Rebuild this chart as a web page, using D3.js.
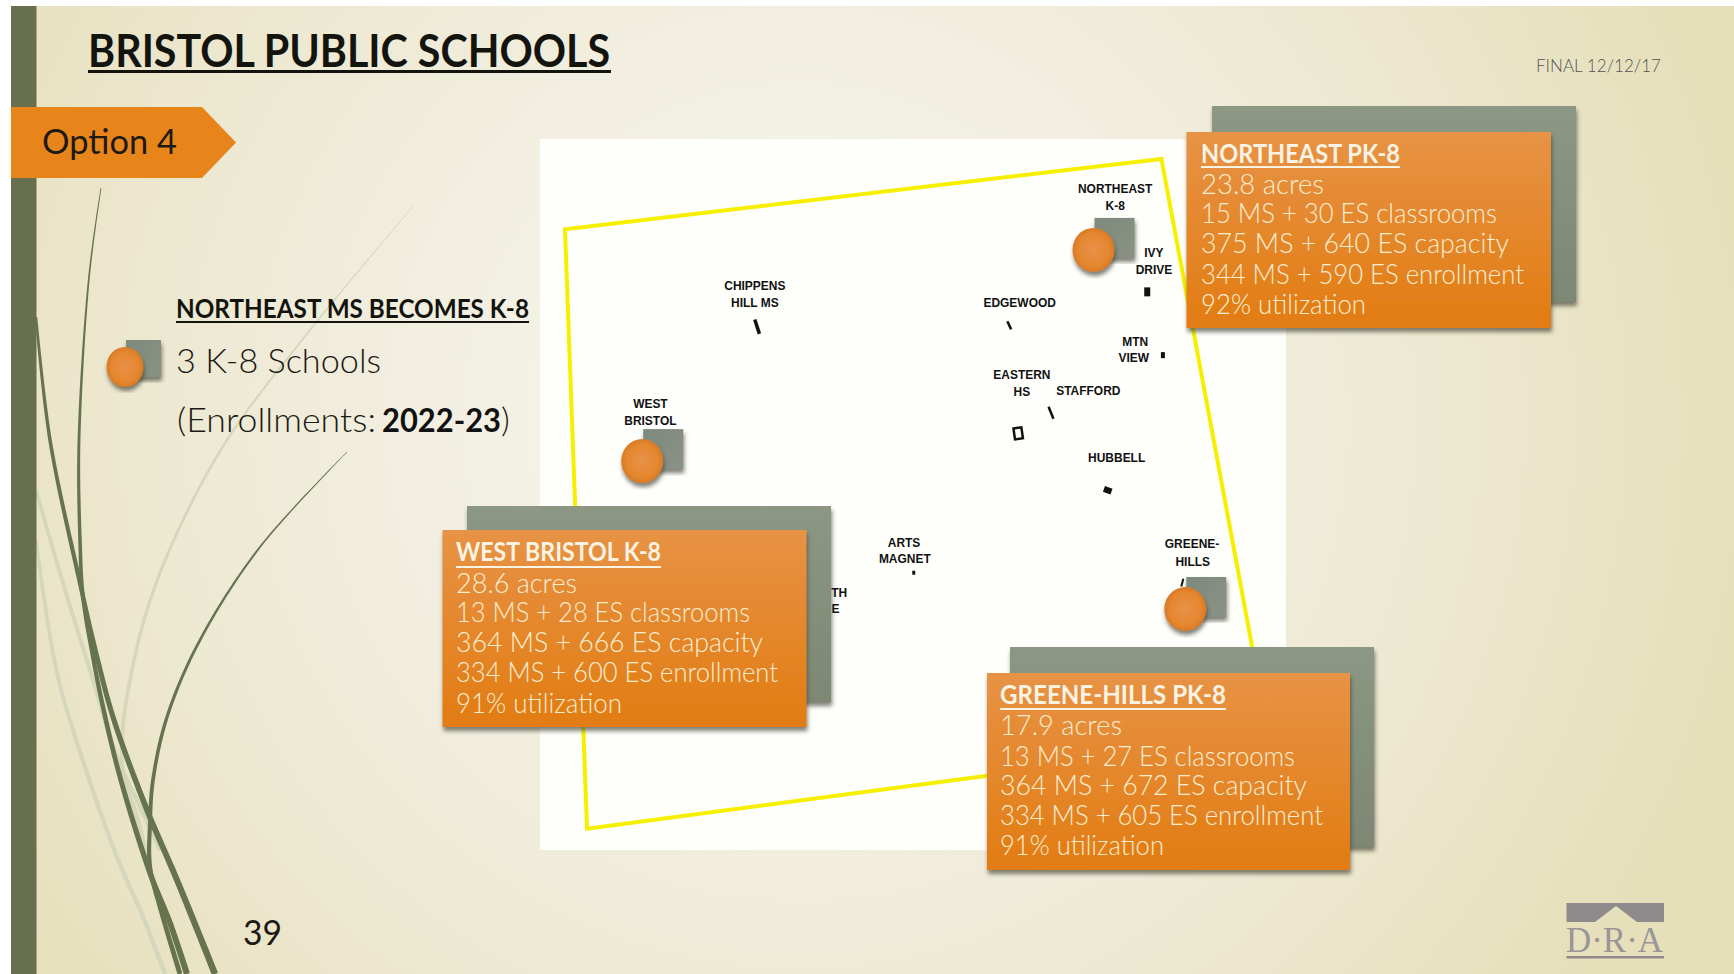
<!DOCTYPE html>
<html><head><meta charset="utf-8">
<script src="https://cdn.jsdelivr.net/npm/d3@7/dist/d3.min.js"></script>
<style>html,body{margin:0;padding:0;background:#fff;overflow:hidden}svg{display:block}</style>
</head><body><svg id="c" width="1734" height="974"></svg>
<script>
// ---------- data ----------
const pageTitle = "BRISTOL PUBLIC SCHOOLS";
const stamp = "FINAL 12/12/17";
const optionLabel = "Option 4";
const leftHeading = "NORTHEAST MS BECOMES K-8";
const leftCount = "3 K-8 Schools";
const enrollLabel = "(Enrollments:";
const enrollYear = "2022-23";
const pageNumber = "39";

const k8Names = ["NORTHEAST PK-8", "WEST BRISTOL K-8", "GREENE-HILLS PK-8"];
const acres = [23.8, 28.6, 17.9];
const msRooms = [15, 13, 13];
const esRooms = [30, 28, 27];
const msCapacity = [375, 364, 364];
const esCapacity = [640, 666, 672];
const msEnroll = [344, 334, 334];
const esEnroll = [590, 600, 605];
const utilization = [92, 91, 91];
// map locations, in percent of the map frame (east, north)
const k8East = [74.2, 13.7, 86.5];
const k8North = [84.4, 54.7, 33.9];

const siteNames = ["CHIPPENS HILL MS","EDGEWOOD","IVY DRIVE","MTN VIEW","STAFFORD","EASTERN HS","HUBBELL","ARTS MAGNET","GREENE-HILLS"];
const siteEast = [29.1, 62.9, 81.4, 83.5, 68.5, 64.1, 76.1, 50.1, 86.1];
const siteNorth = [73.6, 73.8, 78.5, 69.6, 61.5, 58.6, 50.6, 39.0, 37.6];

const labelText = ["NORTHEAST","K-8","IVY","DRIVE","CHIPPENS","HILL MS","EDGEWOOD","MTN","VIEW","EASTERN","HS","STAFFORD","HUBBELL","WEST","BRISTOL","ARTS","MAGNET","GREENE-","HILLS","TH","E"];
const labelEast = [77.1,77.1,82.3,82.3,28.8,28.8,64.3,79.8,79.6,64.6,64.6,73.5,77.3,14.8,14.8,48.8,48.9,87.4,87.5,40.1,39.6];
const labelNorth = [92.4,90.0,83.4,81.0,78.8,76.4,76.4,70.9,68.6,66.2,63.9,64.0,54.6,62.2,59.8,42.6,40.4,42.5,39.9,35.6,33.3];

const boundaryEast = [95.6, 83.3, 3.35, 6.3, 60.5];
const boundaryNorth = [27.8, 97.2, 87.3, 3.0, 10.5];

// ---------- layout ----------
const svg = d3.select("#c");
const defs = svg.append("defs");
const xMap = d3.scaleLinear().domain([0,100]).range([540,1286]);
const yMap = d3.scaleLinear().domain([0,100]).range([850,139]);
const SANS = "'Lato','Open Sans',sans-serif";

function grad(id, stops, radial, attrs){
  const g = defs.append(radial?"radialGradient":"linearGradient").attr("id",id);
  Object.entries(attrs||{}).forEach(([k,v])=>g.attr(k,v));
  stops.forEach(s=>g.append("stop").attr("offset",s[0]).attr("stop-color",s[1]));
}
grad("bg",[[0,"#f8f7ef"],[.4,"#f2efe1"],[.72,"#ece7ce"],[1,"#e5dfba"]],true,
  {gradientUnits:"userSpaceOnUse",cx:800,cy:420,r:960});
grad("orange",[[0,"#e79345"],[.35,"#e58a33"],[1,"#e27c12"]],false,{x1:0,y1:0,x2:0,y2:1});
grad("sage",[[0,"#8c9883"],[1,"#7d8773"]],false,{x1:0,y1:0,x2:0,y2:1});
grad("sage2",[[0,"#7d8a7e"],[1,"#8a9284"]],false,{x1:0,y1:0,x2:1,y2:1});
grad("ball",[[0,"#e8914a"],[.75,"#e5872f"],[1,"#d87a26"]],true,{});
const sh = defs.append("filter").attr("id","sh").attr("x","-10%").attr("y","-10%").attr("width","125%").attr("height","125%");
sh.append("feDropShadow").attr("dx",1).attr("dy",4).attr("stdDeviation",2.2).attr("flood-color","#3c3c30").attr("flood-opacity",.65);

// slide background
svg.append("rect").attr("x",11).attr("y",6).attr("width",1723).attr("height",968).attr("fill","url(#bg)");

// grass blades: tapered shapes built along d3 curves
const bladeLine = d3.line().curve(d3.curveCatmullRom.alpha(.5));
const probe = svg.append("path").attr("fill","none");
function blade(pts, w0, w1, color, op){
  probe.attr("d", bladeLine(pts));
  const el = probe.node(), L = el.getTotalLength(), n = 90;
  const left = [], right = [];
  for(let i=0;i<=n;i++){
    const t=i/n, p=el.getPointAtLength(t*L), q=el.getPointAtLength(Math.min(L,t*L+1)), r=el.getPointAtLength(Math.max(0,t*L-1));
    const dx=q.x-r.x, dy=q.y-r.y, d=Math.hypot(dx,dy)||1, w=(w0+(w1-w0)*Math.pow(t,.8))/2;
    left.push([p.x-dy/d*w,p.y+dx/d*w]); right.unshift([p.x+dy/d*w,p.y-dx/d*w]);
  }
  svg.append("path").attr("d","M"+left.concat(right).map(p=>p.join(",")).join("L")+"Z").attr("fill",color).attr("opacity",op);
}
const dark="#66734f", pale="#d3d4ba";
blade([[414,205],[310,330],[227,440],[177,533],[147,610],[130,680],[123,727],[123,773],[137,817],[152,880]],.5,4.5,pale,.9);
blade([[36,490],[60,573],[93,680],[117,757],[143,813],[160,850]],3.5,4.5,pale,.9);
blade([[36,540],[57,673],[87,773],[117,857],[143,917],[165,974]],3.5,4.5,pale,.9);
blade([[101,188],[89,277],[79,440],[80,540],[83,597],[93,657],[103,707],[120,777],[150,873],[170,923],[187,974]],.8,6,dark,1);
blade([[36,317],[50,440],[80,583],[97,657],[113,717],[147,810],[177,880],[215,974]],2.5,6.5,dark,1);
blade([[347,452],[260,547],[200,640],[167,717],[153,780],[150,823],[150,867],[160,907],[180,974]],.5,5,dark,1);
probe.remove();

// green side bar
svg.append("rect").attr("x",11).attr("y",6).attr("width",25.5).attr("height",968).attr("fill","#66704f");

// title
svg.append("text").attr("x",88).attr("y",67).attr("font-family",SANS).attr("font-weight",700).attr("font-size",45)
  .attr("fill","#14140f").attr("textLength",522).attr("lengthAdjust","spacingAndGlyphs").text(pageTitle);
svg.append("rect").attr("x",88).attr("y",70).attr("width",523).attr("height",3).attr("fill","#14140f");
svg.append("text").attr("x",1536).attr("y",72).attr("font-family",SANS).attr("font-weight",300).attr("font-size",17)
  .attr("fill","#555").attr("textLength",125).attr("lengthAdjust","spacingAndGlyphs").text(stamp);

// option tag
svg.append("polygon").attr("points","11,107 202,107 236,142.5 202,178 11,178").attr("fill","#e8851a");
svg.append("text").attr("x",42).attr("y",154).attr("font-family",SANS).attr("font-size",34).attr("fill","#1d1a14")
  .attr("textLength",135).attr("lengthAdjust","spacingAndGlyphs").text(optionLabel);

// left legend
svg.append("text").attr("x",176).attr("y",318).attr("font-family",SANS).attr("font-weight",700).attr("font-size",26)
  .attr("fill","#14140f").attr("textLength",353).attr("lengthAdjust","spacingAndGlyphs").text(leftHeading);
svg.append("rect").attr("x",176).attr("y",321).attr("width",353).attr("height",2).attr("fill","#14140f");
svg.append("rect").attr("x",126).attr("y",340).attr("width",35).attr("height",37).attr("fill","url(#sage2)").attr("filter","url(#sh)");
svg.append("ellipse").attr("cx",125).attr("cy",367).attr("rx",18.5).attr("ry",20).attr("fill","url(#ball)").attr("filter","url(#sh)");
svg.append("text").attr("x",176).attr("y",373).attr("font-family",SANS).attr("font-weight",300).attr("font-size",34).attr("fill","#1d1a14")
  .attr("textLength",205).attr("lengthAdjust","spacingAndGlyphs").text(leftCount);
svg.append("text").attr("x",177).attr("y",432).attr("font-family",SANS).attr("font-weight",300).attr("font-size",34).attr("fill","#1d1a14")
  .attr("textLength",199).attr("lengthAdjust","spacingAndGlyphs").text(enrollLabel);
svg.append("text").attr("x",382).attr("y",432).attr("font-family",SANS).attr("font-weight",700).attr("font-size",33).attr("fill","#111")
  .attr("textLength",119).attr("lengthAdjust","spacingAndGlyphs").text(enrollYear);
svg.append("text").attr("x",501).attr("y",432).attr("font-family",SANS).attr("font-weight",300).attr("font-size",34).attr("fill","#1d1a14").text(")");

// page number
svg.append("text").attr("x",243).attr("y",945).attr("font-family",SANS).attr("font-size",35).attr("fill","#1d1a14")
  .attr("textLength",39).attr("lengthAdjust","spacingAndGlyphs").text(pageNumber);

// map frame
svg.append("rect").attr("x",xMap(0)).attr("y",yMap(100)).attr("width",xMap(100)-xMap(0)).attr("height",yMap(0)-yMap(100)).attr("fill","#fefefb");
svg.append("path").attr("fill","none").attr("stroke","#f6f000").attr("stroke-width",4).attr("stroke-linejoin","miter")
  .attr("d",d3.line().x(d=>xMap(d[0])).y(d=>yMap(d[1]))(d3.zip(boundaryEast,boundaryNorth)));

// map labels (condensed to the reference's narrower bold face)
svg.append("g").selectAll("text").data(labelText).join("text")
  .attr("x",(d,i)=>xMap(labelEast[i])).attr("y",(d,i)=>yMap(labelNorth[i]))
  .attr("text-anchor","middle").attr("font-family","'Liberation Sans',sans-serif").attr("font-weight",700)
  .attr("font-size",13).attr("fill","#111").text(d=>d)
  .each(function(){ d3.select(this).attr("textLength",this.getComputedTextLength()*0.92).attr("lengthAdjust","spacingAndGlyphs"); });

// school sites
const siteShape = {w:[3.5,2.5,6,4,2.5,8,8,3,2],h:[15,9,9,6,13,11,6,4,8],r:[-18,-25,0,0,-22,-8,20,0,15]};
const hollow = "EASTERN HS";
svg.append("g").selectAll("rect").data(siteNames).join("rect")
  .attr("x",(d,i)=>-siteShape.w[i]/2).attr("y",(d,i)=>-siteShape.h[i]/2)
  .attr("width",(d,i)=>siteShape.w[i]).attr("height",(d,i)=>siteShape.h[i])
  .attr("transform",(d,i)=>`translate(${xMap(siteEast[i])},${yMap(siteNorth[i])}) rotate(${siteShape.r[i]})`)
  .attr("fill",d=>d===hollow?"#fefefb":"#111").attr("stroke",d=>d===hollow?"#111":"none").attr("stroke-width",2.5);

// K-8 pins
const pins = svg.append("g").selectAll("g").data(k8Names).join("g")
  .attr("transform",(d,i)=>`translate(${xMap(k8East[i])},${yMap(k8North[i])})`);
pins.append("rect").attr("x",1).attr("y",-32).attr("width",40).attr("height",40).attr("fill","url(#sage2)").attr("filter","url(#sh)");
pins.append("ellipse").attr("rx",21).attr("ry",22).attr("fill","url(#ball)").attr("filter","url(#sh)");

// callout boxes
const boxLayout = [
 {bx:1212,by:106,bw:364,bh:196,ox:1186.5,oy:132,ow:364.5,oh:196,tx:1201,tb:163,ub:166,tw:199,lb:[194,223,253,284,314],lw:[123,296,308,323,165]},
 {bx:467,by:506,bw:364,bh:196,ox:442.5,oy:530,ow:364,oh:197,tx:456,tb:561,ub:566,tw:205,lb:[593,622,652,682,713],lw:[121,294,307,322,166]},
 {bx:1010,by:647,bw:364,bh:200,ox:987,oy:673,ow:363,oh:197,tx:1000,tb:704,ub:708,tw:226,lb:[735,766,795,825,855],lw:[122,295,307,323,164]}
];
const infoLines = k8Names.map((n,i)=>[
  `${acres[i]} acres`,
  `${msRooms[i]} MS + ${esRooms[i]} ES classrooms`,
  `${msCapacity[i]} MS + ${esCapacity[i]} ES capacity`,
  `${msEnroll[i]} MS + ${esEnroll[i]} ES enrollment`,
  `${utilization[i]}% utilization`]);
k8Names.forEach((name,i)=>{
  const b = boxLayout[i], g = svg.append("g");
  g.append("rect").attr("x",b.bx).attr("y",b.by).attr("width",b.bw).attr("height",b.bh).attr("fill","url(#sage)").attr("filter","url(#sh)");
  g.append("rect").attr("x",b.ox).attr("y",b.oy).attr("width",b.ow).attr("height",b.oh).attr("fill","url(#orange)").attr("filter","url(#sh)");
  g.append("text").attr("x",b.tx).attr("y",b.tb).attr("font-family",SANS).attr("font-weight",700).attr("font-size",26)
    .attr("fill","#fbf3e4").attr("textLength",b.tw).attr("lengthAdjust","spacingAndGlyphs").text(name);
  g.append("rect").attr("x",b.tx).attr("y",b.ub).attr("width",b.tw).attr("height",2).attr("fill","#fbf3e4");
  infoLines[i].forEach((t,j)=>{
    g.append("text").attr("x",b.tx).attr("y",b.lb[j]).attr("font-family",SANS).attr("font-weight",300).attr("font-size",28)
      .attr("fill","#fbeed2").attr("textLength",b.lw[j]).attr("lengthAdjust","spacingAndGlyphs").text(t);
  });
});

// logo
svg.append("polygon").attr("points","1566.5,903 1664,903 1664,922 1637,922 1616,906 1595,922 1566.5,922").attr("fill","#8f8a8c");
svg.append("text").attr("x",1566).attr("y",952).attr("font-family","'Liberation Serif',serif").attr("font-size",36).attr("fill","#9a9597")
  .attr("textLength",97).attr("lengthAdjust","spacingAndGlyphs").text("D·R·A");
svg.append("rect").attr("x",1566.5).attr("y",956).attr("width",97.5).attr("height",2.5).attr("fill","#8f8a8c");
</script></body></html>
